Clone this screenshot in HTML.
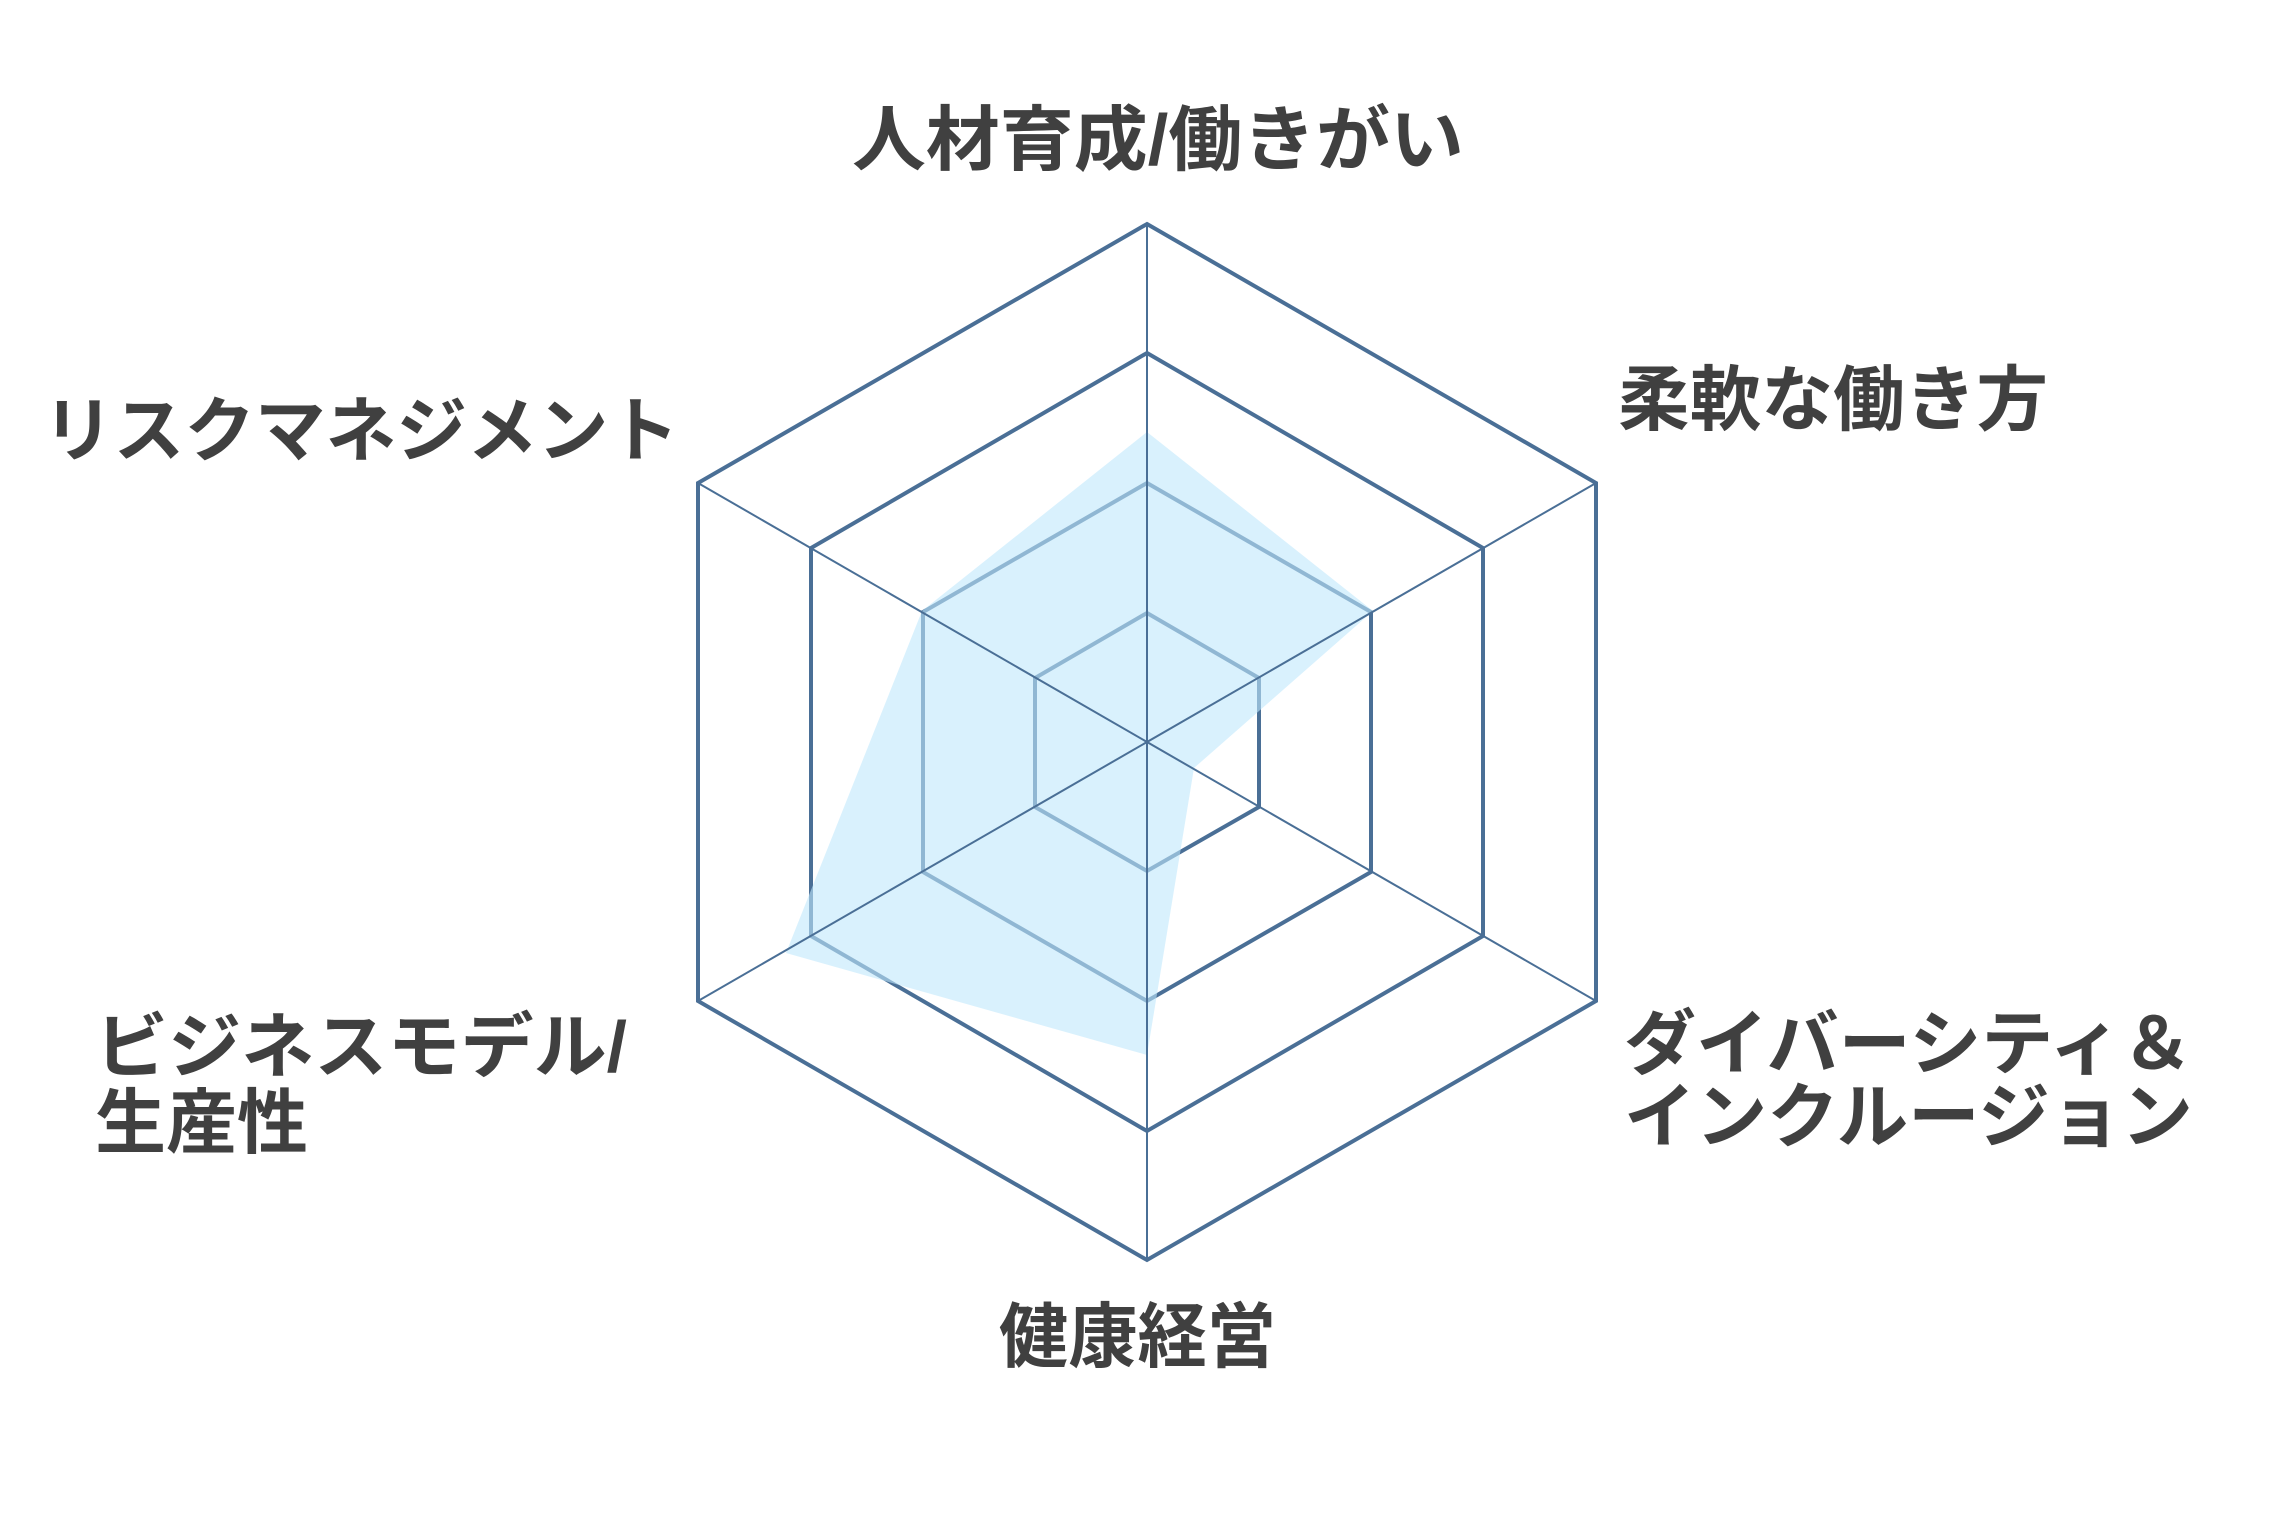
<!DOCTYPE html>
<html><head><meta charset="utf-8"><style>
html,body{margin:0;padding:0;background:#fff;}
svg{display:block;}
text{font-family:"Liberation Sans","Noto Sans CJK JP",sans-serif;font-weight:bold;fill:#404040;font-size:71px;dominant-baseline:central;}
</style></head><body>
<svg width="2285" height="1536" viewBox="0 0 2285 1536" xmlns="http://www.w3.org/2000/svg">
<rect width="2285" height="1536" fill="#fff"/>
<g fill="none" stroke="#4a6f96" stroke-width="4">
<polygon points="1147,613 1259,678 1259,807 1147,871 1035,807 1035,678"/>
<polygon points="1147,483 1371,612 1371,872 1147,1001 923,872 923,612"/>
<polygon points="1147,353 1483,548 1483,936 1147,1131 811,936 811,548"/>
<polygon points="1147,224 1596,483 1596,1001 1147,1260 698,1001 698,483"/>
</g>
<polygon points="1147,432 1373,611 1194,768 1147,1055 786,953 922,611" fill="rgb(192,232,252)" fill-opacity="0.6"/>
<g stroke="#4a6f96" stroke-width="2">
<line x1="1147" y1="224" x2="1147" y2="1260"/>
<line x1="698" y1="483" x2="1596" y2="1001"/>
<line x1="698" y1="1001" x2="1596" y2="483"/>
</g>
<text x="852" y="141" textLength="612" lengthAdjust="spacingAndGlyphs">人材育成/働きがい</text>
<text x="1618" y="401" textLength="430" lengthAdjust="spacingAndGlyphs">柔軟な働き方</text>
<text x="43" y="432" textLength="636" lengthAdjust="spacingAndGlyphs">リスクマネジメント</text>
<text x="95" y="1048" textLength="532" lengthAdjust="spacingAndGlyphs">ビジネスモデル/</text>
<text x="95" y="1124" textLength="213" lengthAdjust="spacingAndGlyphs">生産性</text>
<text x="1624" y="1045" textLength="569" lengthAdjust="spacingAndGlyphs">ダイバーシティ＆</text>
<text x="1624" y="1118" textLength="569" lengthAdjust="spacingAndGlyphs">インクルージョン</text>
<text x="999" y="1338" textLength="277" lengthAdjust="spacingAndGlyphs">健康経営</text>
</svg>
</body></html>
